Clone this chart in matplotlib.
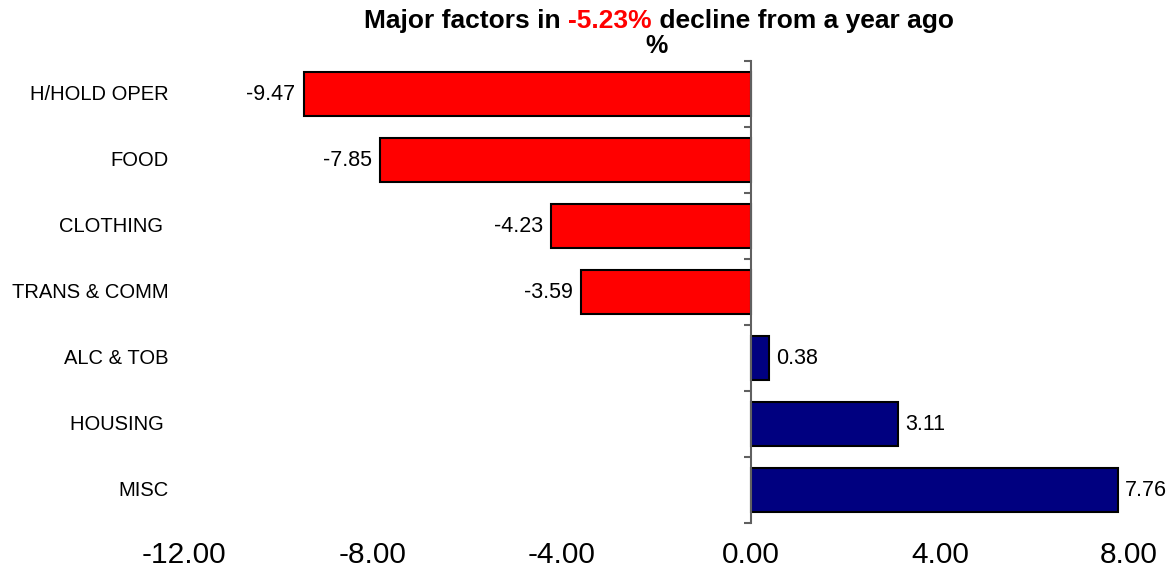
import numpy as np
import matplotlib
matplotlib.use("Agg")
import matplotlib.pyplot as plt
import matplotlib.transforms as mtransforms
from matplotlib.offsetbox import TextArea, HPacker, AnchoredOffsetbox

plt.rcParams['font.family'] = ['Liberation Sans', 'DejaVu Sans']

# data
categories = ["H/HOLD OPER", "FOOD", "CLOTHING ", "TRANS & COMM",
              "ALC & TOB", "HOUSING ", "MISC"]
values = [-9.47, -7.85, -4.23, -3.59, 0.38, 3.11, 7.76]
total_change = -5.23
xticks = [-12, -8, -4, 0, 4, 8]

fig = plt.figure(figsize=(11.72, 5.78), dpi=100)
ax = fig.add_axes([184 / 1172, 1 - 523 / 578, 945 / 1172, 462 / 578])

y = np.arange(len(categories))
colors = ["#FF0000" if v < 0 else "#000080" for v in values]
ax.barh(y, values, height=0.66, color=colors, edgecolor="black",
        linewidth=1.5, zorder=2)

# value labels
for yi, v in zip(y, values):
    if v < 0:
        ax.annotate(f"{v:.2f}", (v, yi), xytext=(-6, 0),
                    textcoords="offset points", ha="right", va="center",
                    fontsize=15.5)
    else:
        ax.annotate(f"{v:.2f}", (v, yi), xytext=(5, 0),
                    textcoords="offset points", ha="left", va="center",
                    fontsize=15.5)

ax.set_xlim(-12, 8)
ax.set_ylim(len(categories) - 0.5, -0.5)

# vertical axis through zero, ticks between categories
for s in ["top", "right", "bottom"]:
    ax.spines[s].set_visible(False)
ax.spines["left"].set_position(("data", 0))
ax.spines["left"].set_color("#606060")
ax.spines["left"].set_linewidth(1.5)
ax.spines["left"].set_zorder(3)
ax.set_yticks(np.arange(-0.5, len(categories), 1))
ax.set_yticklabels([])
ax.tick_params(axis="y", direction="out", length=5, width=1.5,
               color="#606060")

ax.set_xticks(xticks)
ax.set_xticklabels([f"{t:.2f}" for t in xticks])
ax.tick_params(axis="x", length=0, labelsize=21.5, pad=13)

# category labels
trans = mtransforms.blended_transform_factory(ax.transAxes, ax.transData)
for yi, c in zip(y, categories):
    ax.text(-0.016, yi, c, transform=trans, ha="right", va="center",
            fontsize=14.5)

# title with coloured value
tp = dict(fontsize=19, fontweight="bold")
parts = [
    TextArea("Major factors in ", textprops=dict(tp, color="black")),
    TextArea(f"{total_change:.2f}%", textprops=dict(tp, color="#FF0000")),
    TextArea(" decline from a year ago", textprops=dict(tp, color="black")),
]
box = HPacker(children=parts, align="baseline", pad=0, sep=0)
anchored = AnchoredOffsetbox(loc="center", child=box,
                             bbox_to_anchor=(659 / 1172, 1 - 21 / 578),
                             bbox_transform=fig.transFigure,
                             frameon=False, pad=0, borderpad=0)
fig.add_artist(anchored)
fig.text(657 / 1172, 1 - 46 / 578, "%", ha="center", va="center",
         fontsize=18, fontweight="bold")

fig.savefig("out.png", dpi=100)
